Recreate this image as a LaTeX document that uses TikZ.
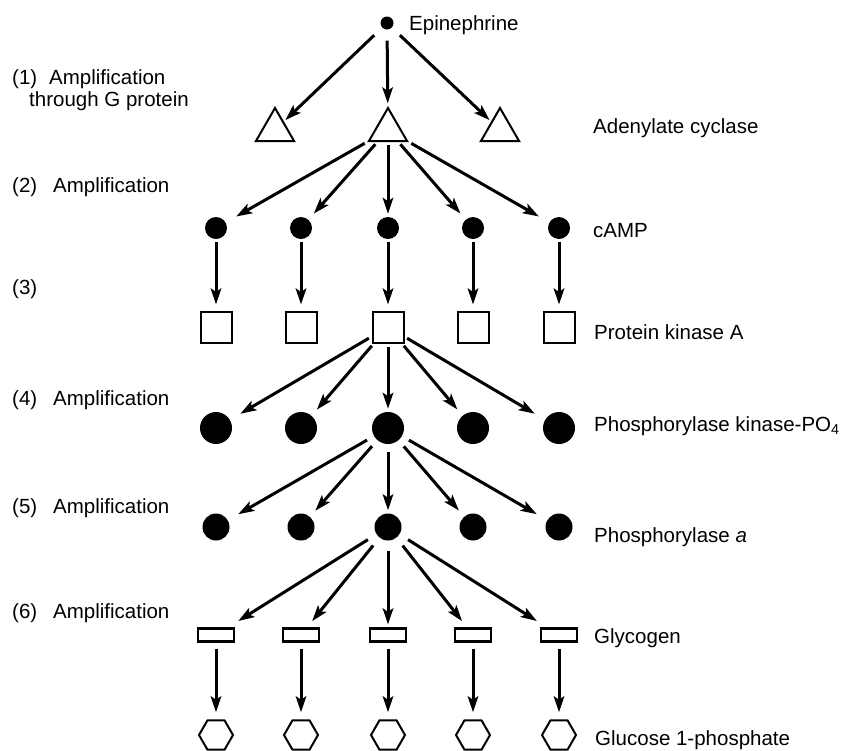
\documentclass[tikz,border=0pt]{standalone}
\usepackage{fontspec}
\setmainfont{Liberation Sans}
\usetikzlibrary{shapes.geometric,arrows.meta}
\begin{document}
\begin{tikzpicture}[x=1pt,y=-1pt,
  arr/.style={line width=3pt,-{Stealth[length=16pt,width=10.5pt,inset=3.5pt]}},
  blob/.style={circle,fill=black,draw=none,inner sep=0pt,minimum size=#1},
  tri/.style={regular polygon,regular polygon sides=3,draw,line width=2pt,inner sep=0pt,minimum size=44pt},
  sqbox/.style={rectangle,draw,line width=2pt,inner sep=0pt,minimum size=31pt},
  glyc/.style={rectangle,draw,line width=2.2pt,inner sep=0pt,minimum width=36pt,minimum height=13pt},
  hexa/.style={regular polygon,regular polygon sides=6,draw,line width=2pt,inner sep=0pt,minimum size=34pt},
  lbl/.style={font=\fontsize{20.5}{24}\selectfont,anchor=base west,inner sep=0pt}
]
\useasboundingbox (0,0) rectangle (850,750);

% top
\node[blob=13pt] (epi) at (387,23) {};
\node[lbl] (epil) at (409,30) {Epinephrine};

% triangles
\node[tri] (t1) at (275,130) {};
\node[tri] (t2) at (388,130) {};
\node[tri] (t3) at (500,130) {};
\node[lbl] (tl) at (593,133) {Adenylate cyclase};

% columns
\foreach \i/\x in {1/216,2/301,3/388,4/473,5/559}{
  \node[blob=22pt] (c\i) at (\x,228) {};
  \node[sqbox] (s\i) at (\x,327) {};
  \node[blob=32pt] (k\i) at (\x,428) {};
  \node[blob=27pt] (p\i) at (\x,527) {};
  \node[glyc] (g\i) at (\x,635) {};
  \node[hexa] (h\i) at (\x,735) {};
}
\node[lbl] (cl) at (593,237) {cAMP};
\node[lbl] (sl) at (594,339) {Protein kinase A};
\node[lbl] (kl) at (594,431) {Phosphorylase kinase-PO\textsubscript{4}};
\node[lbl] (pl) at (594,542) {Phosphorylase \textit{a}};
\node[lbl] (gl) at (594,643) {Glycogen};
\node[lbl] (hl) at (595,745) {Glucose 1-phosphate};

% left labels
\node[lbl] (n1) at (12,84) {(1)};
\node[lbl] (a1) at (49,84) {Amplification};
\node[lbl] (a1b) at (29,106) {through G protein};
\node[lbl] (n2) at (12,192) {(2)};
\node[lbl] (a2) at (53,192) {Amplification};
\node[lbl] (n3) at (12,294) {(3)};
\node[lbl] (n4) at (12,405) {(4)};
\node[lbl] (a4) at (53,405) {Amplification};
\node[lbl] (n5) at (12,513) {(5)};
\node[lbl] (a5) at (53,513) {Amplification};
\node[lbl] (n6) at (12,618) {(6)};
\node[lbl] (a6) at (53,618) {Amplification};

% arrows epinephrine -> triangles
\draw[arr,shorten <=11pt,shorten >=2pt] (epi) -- (t1);
\draw[arr,shorten <=11pt,shorten >=3pt] (epi) -- (t2);
\draw[arr,shorten <=11pt,shorten >=2pt] (epi) -- (t3);

% fan-outs
\foreach \i/\s in {1/12,2/8,3/3,4/8,5/12}{
  \draw[arr,shorten <=3pt,shorten >=\s pt] (t2) -- (c\i);
  \draw[arr,shorten <=3pt,shorten >=\s pt] (s3) -- (k\i);
  \draw[arr,shorten <=8pt,shorten >=\s pt] (k3) -- (p\i);
  \draw[arr,shorten <=10pt,shorten >=\s pt] (p3) -- (g\i);
}

% verticals
\foreach \i in {1,...,5}{
  \draw[arr,shorten <=3pt,shorten >=6pt] (c\i) -- (s\i);
  \draw[arr,shorten <=6pt,shorten >=7pt] (g\i) -- (h\i);
}
\end{tikzpicture}
\end{document}
